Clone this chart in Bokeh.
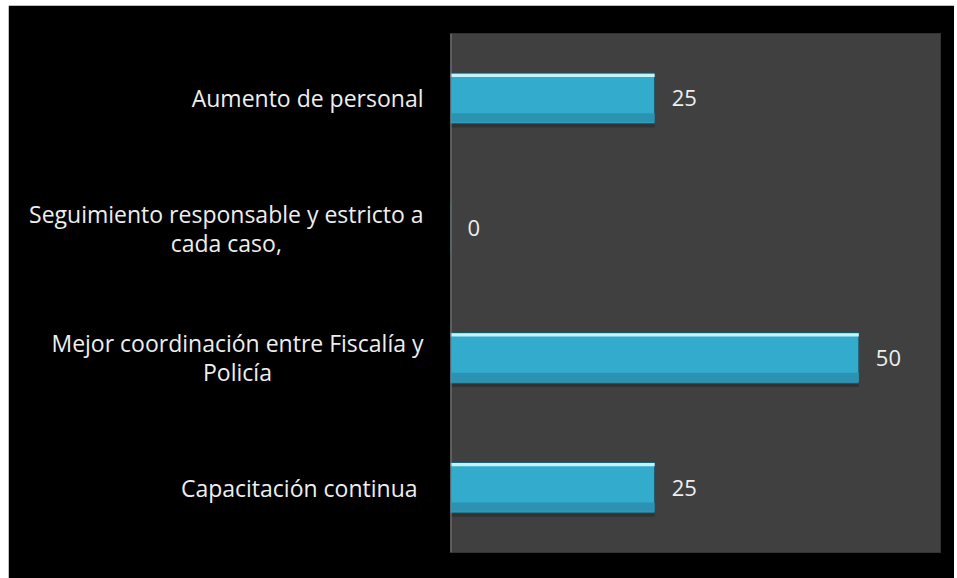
from bokeh.plotting import figure
from bokeh.models import FactorRange, Range1d, ColumnDataSource, Span
from bokeh.transform import dodge
from bokeh.core.properties import value
from bokeh.embed import file_html
from bokeh.resources import INLINE

categories = [
    "Aumento de personal",
    "Seguimiento responsable y estricto a\ncada caso,",
    "Mejor coordinación entre Fiscalía y\nPolicía",
    "Capacitación continua ",
]
values = [25, 0, 50, 25]
value_labels = ["25", "0", "50", "25"]
x_max = 60

src = ColumnDataSource(dict(cat=categories, val=values, lab=value_labels))

p = figure(
    width=946, height=573,
    y_range=FactorRange(*reversed(categories)),
    x_range=Range1d(0, x_max),
    output_backend="svg", toolbar_location=None,
    min_border_left=442, min_border_right=14,
    min_border_top=28, min_border_bottom=26,
)
p.margin = (5, 0, 0, 8)
p.background_fill_color = "#404040"
p.border_fill_color = "black"
p.outline_line_color = "#333333"
p.xaxis.visible = False
p.yaxis.visible = False
p.xgrid.grid_line_color = None
p.ygrid.grid_line_color = None

# shadow
p.hbar(y=dodge("cat", -0.03, range=p.y_range), right="val", height=0.39,
       fill_color="#2a2a2a", fill_alpha=0.6, line_color=None, source=src)
# main bar
p.hbar(y="cat", right="val", height=0.39, fill_color="#33abcd",
       line_color="#1b5566", line_width=1, source=src)
# lower darker band
p.hbar(y=dodge("cat", -0.15, range=p.y_range), right="val", height=0.07,
       fill_color="#2b93b1", line_color=None, source=src)
# top highlight
p.hbar(y=dodge("cat", 0.177, range=p.y_range), right="val", height=0.025,
       fill_color="#c4f4fb", line_color=None, source=src)

# axis line at zero
p.add_layout(Span(location=0, dimension="height", line_color="#808080",
                  line_width=2))

p.text(x="val", y="cat", text="lab", x_offset=17, text_baseline="middle",
       text_align="left", text_font=value("Open Sans"), text_font_size="22px",
       text_color="#eeeeee", source=src)

lbl = p.text(x=0, y="cat", text="cat", x_offset=-27, anchor="center_right",
             text_align="center", text_baseline="middle",
             text_font=value("Open Sans"), text_font_size="23px",
             text_line_height=0.9, text_color="#eeeeee", source=src)
lbl.level = "annotation"

open("out.html", "w").write(file_html(p, INLINE))
